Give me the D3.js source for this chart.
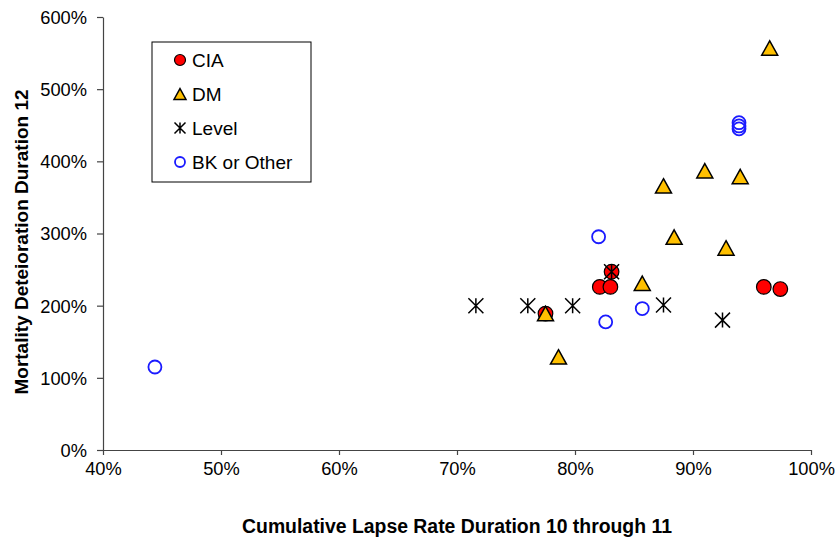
<!DOCTYPE html>
<html>
<head>
<meta charset="utf-8">
<script src="https://cdn.jsdelivr.net/npm/d3@7"></script>
<style>
  body { margin: 0; background: #fff; }
  text { font-family: Arial, "Liberation Sans", sans-serif; }
</style>
</head>
<body>
<svg id="chart" width="838" height="541"></svg>
<script>
// data (fractions)
const ciaX = [0.775, 0.821, 0.830, 0.831, 0.960, 0.974];
const ciaY = [1.89, 2.26, 2.26, 2.47, 2.26, 2.23];

const dmX = [0.775, 0.786, 0.857, 0.875, 0.884, 0.910, 0.928, 0.940, 0.965];
const dmY = [1.89, 1.29, 2.31, 3.66, 2.95, 3.87, 2.80, 3.79, 5.57];

const levelX = [0.716, 0.760, 0.798, 0.831, 0.875, 0.925];
const levelY = [2.00, 2.00, 2.00, 2.47, 2.01, 1.80];

const bkX = [0.444, 0.820, 0.826, 0.857, 0.939, 0.939, 0.939];
const bkY = [1.15, 2.955, 1.775, 1.96, 4.535, 4.49, 4.45];

const xTicks = [0.4, 0.5, 0.6, 0.7, 0.8, 0.9, 1.0];
const yTicks = [0, 1, 2, 3, 4, 5, 6];
const seriesNames = ["CIA", "DM", "Level", "BK or Other"];

const svg = d3.select("#chart");
const plotL = 103, plotR = 811, plotT = 17, plotB = 450;

const x = d3.scaleLinear().domain([0.4, 1.0]).range([plotL, plotR]);
const y = d3.scaleLinear().domain([0, 6]).range([plotB, plotT]);

const pct = d => Math.round(d * 100) + "%";

// axes
const xAxis = d3.axisBottom(x).tickValues(xTicks).tickFormat(pct).tickSize(5).tickSizeOuter(0);
const yAxis = d3.axisLeft(y).tickValues(yTicks).tickFormat(pct).tickSize(6).tickSizeOuter(0);

const gx = svg.append("g").attr("transform", `translate(0,${plotB})`).call(xAxis);
const gy = svg.append("g").attr("transform", `translate(${plotL},0)`).call(yAxis);

[gx, gy].forEach(g => {
  g.select(".domain").attr("stroke", "#444").attr("stroke-width", 1.2);
  g.selectAll(".tick line").attr("stroke", "#444").attr("stroke-width", 1.2);
  g.selectAll(".tick text").attr("font-size", "18.3px").attr("fill", "#000")
    .attr("font-family", "Arial, 'Liberation Sans', sans-serif");
});
gx.selectAll(".tick text").attr("dy", null).attr("y", 25);
gy.selectAll(".tick text").attr("x", -16).attr("dy", "0.35em");

// axis titles
svg.append("text")
  .attr("x", 457).attr("y", 533)
  .attr("text-anchor", "middle")
  .attr("font-weight", "bold").attr("font-size", "19.4px")
  .text("Cumulative Lapse Rate Duration 10 through 11");

svg.append("text")
  .attr("transform", "translate(28,242) rotate(-90)")
  .attr("text-anchor", "middle")
  .attr("font-weight", "bold").attr("font-size", "19px")
  .text("Mortality Deteioration Duration 12");

// marker drawing helpers
function circleRed(g, r) {
  g.append("circle").attr("r", r).attr("fill", "#ff0000")
    .attr("stroke", "#000").attr("stroke-width", 1.2);
}
function triangle(g, w) {
  const h = w * 0.9;
  g.append("path")
    .attr("d", `M0,${-h / 2}L${w / 2},${h / 2}L${-w / 2},${h / 2}Z`)
    .attr("fill", "#ffc000").attr("stroke", "#000").attr("stroke-width", 1.5)
    .attr("stroke-linejoin", "miter");
}
function star(g, s) {
  g.append("path")
    .attr("d", `M0,${-s}V${s}M${-s},${-s}L${s},${s}M${s},${-s}L${-s},${s}`)
    .attr("stroke", "#000").attr("stroke-width", 1.5).attr("fill", "none");
}
function circleBlue(g, r) {
  g.append("circle").attr("r", r).attr("fill", "none")
    .attr("stroke", "#1a1aff").attr("stroke-width", 1.8);
}

function drawSeries(xs, ys, draw, size) {
  const pts = xs.map((v, i) => [v, ys[i]]);
  svg.append("g").selectAll("g")
    .data(pts)
    .join("g")
    .attr("transform", d => `translate(${x(d[0])},${y(d[1])})`)
    .each(function () { draw(d3.select(this), size); });
}

drawSeries(ciaX, ciaY, circleRed, 7.3);
drawSeries(dmX, dmY, triangle, 16);
drawSeries(levelX, levelY, star, 7.5);
drawSeries(bkX, bkY, circleBlue, 6.5);

// legend
const lg = svg.append("g");
lg.append("rect").attr("x", 152).attr("y", 42).attr("width", 159).attr("height", 140)
  .attr("fill", "#fff").attr("stroke", "#000").attr("stroke-width", 1);

const legendDraw = [
  g => circleRed(g, 5.5),
  g => triangle(g, 12),
  g => star(g, 5.5),
  g => circleBlue(g, 5)
];
const legendY = d3.scalePoint().domain(seriesNames).range([60, 162]);

seriesNames.forEach((name, i) => {
  const row = lg.append("g").attr("transform", `translate(180,${legendY(name)})`);
  legendDraw[i](row);
  row.append("text").attr("x", 12).attr("y", 6.5)
    .attr("font-size", "19px").text(name);
});
</script>
</body>
</html>
